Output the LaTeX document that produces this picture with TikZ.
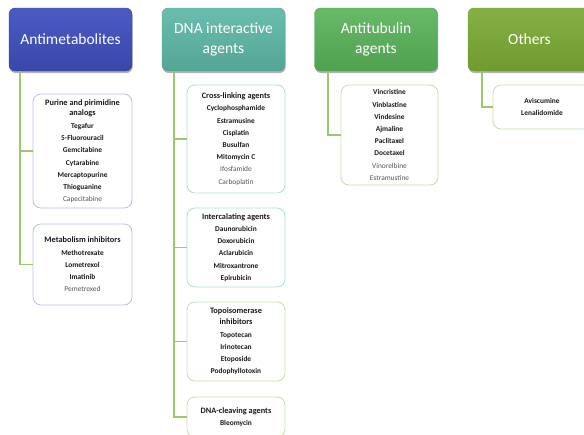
\documentclass[tikz,border=0pt]{standalone}
\usepackage{fontspec}
\setmainfont{Carlito}
\usetikzlibrary{shadows}

\definecolor{amtop}{HTML}{4B5BC4}
\definecolor{ambot}{HTML}{3A47A8}
\definecolor{dnatop}{HTML}{6ABDAE}
\definecolor{dnabot}{HTML}{55A596}
\definecolor{attop}{HTML}{68B968}
\definecolor{atbot}{HTML}{4FA04F}
\definecolor{ottop}{HTML}{86B045}
\definecolor{otbot}{HTML}{6E9A30}
\definecolor{amedge}{HTML}{B6C0E6}
\definecolor{dnaedge}{HTML}{B2DDD5}
\definecolor{grnedge}{HTML}{C2E1AA}
\definecolor{connc}{HTML}{9CC86E}
\definecolor{txtdark}{HTML}{1A1A1A}
\definecolor{txtgray}{HTML}{555555}

\newcommand\grp[1]{{\fontsize{8.3}{12}\selectfont\bfseries #1}}
\newcommand\drug[1]{\textbf{#1}}
\newcommand\weak[1]{{\color{txtgray}#1}}

\tikzset{
  header/.style={rounded corners=6pt, minimum width=123pt, minimum height=63pt,
    inner sep=0pt, align=center, text=white,
    font=\fontsize{15.5}{19.5}\selectfont,
    drop shadow={shadow xshift=0.6pt, shadow yshift=-2pt, opacity=0.3, fill=black}},
  subbox/.style={rounded corners=8pt, fill=white, line width=0.8pt, inner sep=0pt,
    align=center, text=txtdark, font=\fontsize{7.4}{12.2}\selectfont},
  conn/.style={draw=connc, line width=1.3pt}
}

\begin{document}
\begin{tikzpicture}[x=1pt,y=-1pt]
\useasboundingbox (0,0) rectangle (584,434);
\clip (0,0) rectangle (584,434);
\fill[white] (0,0) rectangle (584,434);

% free upper ends of the tree connectors, just under each header
\coordinate (amdrop) at (20,71);
\coordinate (dnadrop) at (174,71);
\coordinate (atdrop) at (328,71);
\coordinate (otdrop) at (482,71);

% column headers
\node[header, draw=ambot, top color=amtop, bottom color=ambot] (am) at (70.5,39.5) {Antimetabolites};
\node[header, draw=dnabot, top color=dnatop, bottom color=dnabot] (dna) at (223.5,39.5) {DNA interactive\\agents};
\node[header, draw=atbot, top color=attop, bottom color=atbot] (at) at (376,39.5) {Antitubulin\\agents};
\node[header, draw=otbot, top color=ottop, bottom color=otbot] (ot) at (529.5,39.5) {Others};

% antimetabolites
\node[subbox, draw=amedge, minimum width=99pt, minimum height=114pt] (pur) at (82.5,151)
  {\grp{Purine and pirimidine}\\[-2pt]\grp{analogs}\\[1pt]\drug{Tegafur}\\\drug{5-Fluorouracil}\\\drug{Gemcitabine}\\\drug{Cytarabine}\\\drug{Mercaptopurine}\\\drug{Thioguanine}\\\weak{Capecitabine}};
\node[subbox, draw=amedge, minimum width=99pt, minimum height=81pt] (met) at (82.5,264.5)
  {\grp{Metabolism inhibitors}\\\drug{Methotrexate}\\\drug{Lometrexol}\\\drug{Imatinib}\\\weak{Pemetrexed}};

% DNA interactive agents
\node[subbox, draw=dnaedge, minimum width=98pt, minimum height=108pt] (cross) at (236,139)
  {\grp{Cross-linking agents}\\\drug{Cyclophosphamide}\\\drug{Estramusine}\\\drug{Cisplatin}\\\drug{Busulfan}\\\drug{Mitomycin C}\\\weak{Ifosfamide}\\\weak{Carboplatin}};
\node[subbox, draw=dnaedge, minimum width=98pt, minimum height=79pt] (inter) at (236,247.5)
  {\grp{Intercalating agents}\\\drug{Daunorubicin}\\\drug{Doxorubicin}\\\drug{Aclarubicin}\\\drug{Mitroxantrone}\\\drug{Epirubicin}};
\node[subbox, draw=grnedge, minimum width=98pt, minimum height=79pt] (topo) at (236,341.5)
  {\grp{Topoisomerase}\\[-2pt]\grp{inhibitors}\\[1pt]\drug{Topotecan}\\\drug{Irinotecan}\\\drug{Etoposide}\\\drug{Podophyllotoxin}};
\node[subbox, draw=grnedge, minimum width=98pt, minimum height=40pt] (cleave) at (236,417)
  {\grp{DNA-cleaving agents}\\\drug{Bleomycin}};

% antitubulin agents
\node[subbox, draw=grnedge, minimum width=97pt, minimum height=100pt] (tub) at (389.5,135)
  {\drug{Vincristine}\\\drug{Vinblastine}\\\drug{Vindesine}\\\drug{Ajmaline}\\\drug{Paclitaxel}\\\drug{Docetaxel}\\\weak{Vinorelbine}\\\weak{Estramustine}};

% others
\node[subbox, draw=grnedge, minimum width=98pt, minimum height=44pt] (oth) at (542,107)
  {\drug{Aviscumine}\\\drug{Lenalidomide}};

% tree connectors from each header to its groups
\draw[conn] (amdrop) |- (pur.west);
\draw[conn] (amdrop) |- (met.west);
\draw[conn] (dnadrop) |- (cross.west);
\draw[conn] (dnadrop) |- (inter.west);
\draw[conn] (dnadrop) |- (topo.west);
\draw[conn] (dnadrop) |- (cleave.west);
\draw[conn] (atdrop) |- (tub.west);
\draw[conn] (otdrop) |- (oth.west);
\end{tikzpicture}
\end{document}
